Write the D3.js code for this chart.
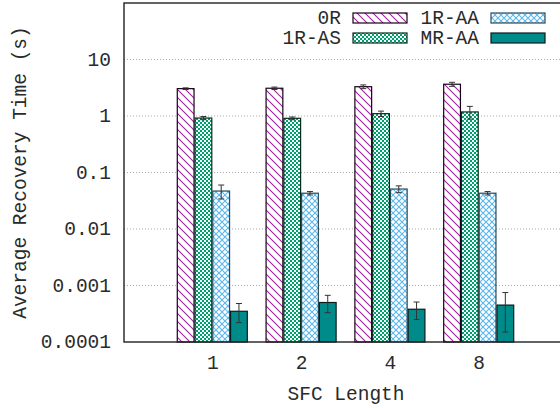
<!DOCTYPE html>
<html>
<head>
<meta charset="utf-8">
<script src="https://cdn.jsdelivr.net/npm/d3@7"></script>
<style>
  body { margin: 0; background: #fff; }
  text { font-family: "Liberation Mono", "Courier New", monospace; fill: #2a2a2a; }
</style>
</head>
<body>
<svg id="chart" width="560" height="408"></svg>
<script>
// SFC lengths on the x axis
const sfcLengths = ['1', '2', '4', '8'];
const seriesNames = ['0R', '1R-AS', '1R-AA', 'MR-AA'];

// mean recovery time (s) per SFC length
const valuesOR   = [3.05, 3.1, 3.3, 3.65];
const valuesOneAS = [0.92, 0.91, 1.1, 1.18];
const valuesOneAA = [0.047, 0.043, 0.051, 0.043];
const valuesMRAA = [0.00035, 0.0005, 0.00038, 0.00045];

// error (+/-) per value
const errOR   = [0.1, 0.15, 0.25, 0.3];
const errOneAS = [0.06, 0.05, 0.12, 0.3];
const errOneAA = [0.013, 0.003, 0.007, 0.003];
const errMRAA = [0.00013, 0.00017, 0.00013, 0.0003];

const yTicks = [0.0001, 0.001, 0.01, 0.1, 1, 10];
const yTickLabels = ['0.0001', '0.001', '0.01', '0.1', '1', '10'];

const seriesValues = [valuesOR, valuesOneAS, valuesOneAA, valuesMRAA];
const seriesErrors = [errOR, errOneAS, errOneAA, errMRAA];

const svg = d3.select('#chart');
const defs = svg.append('defs');

const plot = { left: 124, right: 568, top: 3, bottom: 342 };

const x = d3.scaleLinear().domain([-1, 4]).range([plot.left, plot.right]);
const y = d3.scaleLog().domain([1e-4, 100]).range([plot.bottom, plot.top]);
const barW = x(0.2) - x(0);

// patterns roughly like gnuplot fill patterns
function hatch(id, color, dirs, size) {
  const p = defs.append('pattern')
    .attr('id', id)
    .attr('patternUnits', 'userSpaceOnUse')
    .attr('width', size).attr('height', size);
  p.append('rect').attr('width', size).attr('height', size).attr('fill', '#fff');
  dirs.forEach(dir => {
    const d = dir === 'down'
      ? `M0,0L${size},${size}M${-size},0L${size},${2 * size}M0,${-size}L${2 * size},${size}`
      : `M0,${size}L${size},0M${-size},${size}L${size},${-size}M0,${2 * size}L${2 * size},0`;
    p.append('path').attr('d', d).attr('stroke', color).attr('stroke-width', 1.1);
  });
}
hatch('pat-0r', '#a020a0', ['down'], 8);
hatch('pat-1raa', '#5cb8ee', ['down', 'up'], 6);

const chk = defs.append('pattern')
  .attr('id', 'pat-1ras')
  .attr('patternUnits', 'userSpaceOnUse')
  .attr('width', 4).attr('height', 4);
chk.append('rect').attr('width', 4).attr('height', 4).attr('fill', '#009e70');
chk.append('rect').attr('x', 0).attr('y', 0).attr('width', 2).attr('height', 2).attr('fill', '#f4fffa');
chk.append('rect').attr('x', 2).attr('y', 2).attr('width', 2).attr('height', 2).attr('fill', '#f4fffa');

const fills = ['url(#pat-0r)', 'url(#pat-1ras)', 'url(#pat-1raa)', '#008b8b'];
const strokes = ['#1a001a', '#0a2a1a', '#2c4a58', '#0b1b1b'];

// grid
svg.append('g').selectAll('line')
  .data(yTicks.filter(t => t > 1e-4))
  .join('line')
  .attr('x1', plot.left).attr('x2', plot.right)
  .attr('y1', d => y(d)).attr('y2', d => y(d))
  .attr('stroke', '#a8a8a8')
  .attr('stroke-width', 1)
  .attr('stroke-dasharray', '1,2');

// bars
const bars = svg.append('g');
seriesValues.forEach((vals, s) => {
  const g = bars.append('g');
  g.selectAll('rect')
    .data(vals)
    .join('rect')
    .attr('x', (d, i) => x(i) + (s - 2) * barW)
    .attr('y', d => y(d))
    .attr('width', barW - 1)
    .attr('height', d => plot.bottom - y(d))
    .attr('fill', fills[s])
    .attr('stroke', strokes[s])
    .attr('stroke-width', 1.2);

  const eb = g.selectAll('g.err')
    .data(vals.map((v, i) => ({ v, e: seriesErrors[s][i], i })))
    .join('g')
    .attr('class', 'err')
    .attr('stroke', '#333')
    .attr('stroke-width', 1);
  const cx = d => x(d.i) + (s - 2) * barW + (barW - 1) / 2;
  eb.append('line')
    .attr('x1', cx).attr('x2', cx)
    .attr('y1', d => y(d.v + d.e)).attr('y2', d => y(d.v - d.e));
  eb.append('line')
    .attr('x1', d => cx(d) - 3).attr('x2', d => cx(d) + 3)
    .attr('y1', d => y(d.v + d.e)).attr('y2', d => y(d.v + d.e));
  eb.append('line')
    .attr('x1', d => cx(d) - 3).attr('x2', d => cx(d) + 3)
    .attr('y1', d => y(d.v - d.e)).attr('y2', d => y(d.v - d.e));
});

// frame
svg.append('rect')
  .attr('x', plot.left).attr('y', plot.top)
  .attr('width', plot.right - plot.left)
  .attr('height', plot.bottom - plot.top)
  .attr('fill', 'none')
  .attr('stroke', '#222')
  .attr('stroke-width', 1.4);

// y tick labels
svg.append('g').selectAll('text')
  .data(yTicks)
  .join('text')
  .attr('x', 111)
  .attr('y', d => y(d))
  .attr('dy', '0.33em')
  .attr('text-anchor', 'end')
  .style('font-size', '19.5px')
  .text((d, i) => yTickLabels[i]);

// x tick labels
svg.append('g').selectAll('text')
  .data(sfcLengths)
  .join('text')
  .attr('x', (d, i) => x(i))
  .attr('y', 369)
  .attr('text-anchor', 'middle')
  .style('font-size', '19.5px')
  .text(d => d);

svg.append('text')
  .attr('x', (plot.left + plot.right) / 2)
  .attr('y', 400)
  .attr('text-anchor', 'middle')
  .style('font-size', '19.5px')
  .text('SFC Length');

svg.append('text')
  .attr('transform', `translate(26,${(plot.top + plot.bottom) / 2}) rotate(-90)`)
  .attr('text-anchor', 'middle')
  .style('font-size', '19.5px')
  .text('Average Recovery Time (s)');

// legend
const legendPos = [
  { tx: 341, sx: 353, cy: 18 },
  { tx: 341, sx: 353, cy: 38 },
  { tx: 479, sx: 491, cy: 18 },
  { tx: 479, sx: 491, cy: 38 }
];
const legend = svg.append('g');
seriesNames.forEach((name, s) => {
  const p = legendPos[s];
  legend.append('text')
    .attr('x', p.tx).attr('y', p.cy)
    .attr('dy', '0.33em')
    .attr('text-anchor', 'end')
    .style('font-size', '19.5px')
    .text(name);
  legend.append('rect')
    .attr('x', p.sx).attr('y', p.cy - 5)
    .attr('width', 54).attr('height', 10)
    .attr('fill', fills[s])
    .attr('stroke', strokes[s])
    .attr('stroke-width', 1.2);
});
</script>
</body>
</html>
